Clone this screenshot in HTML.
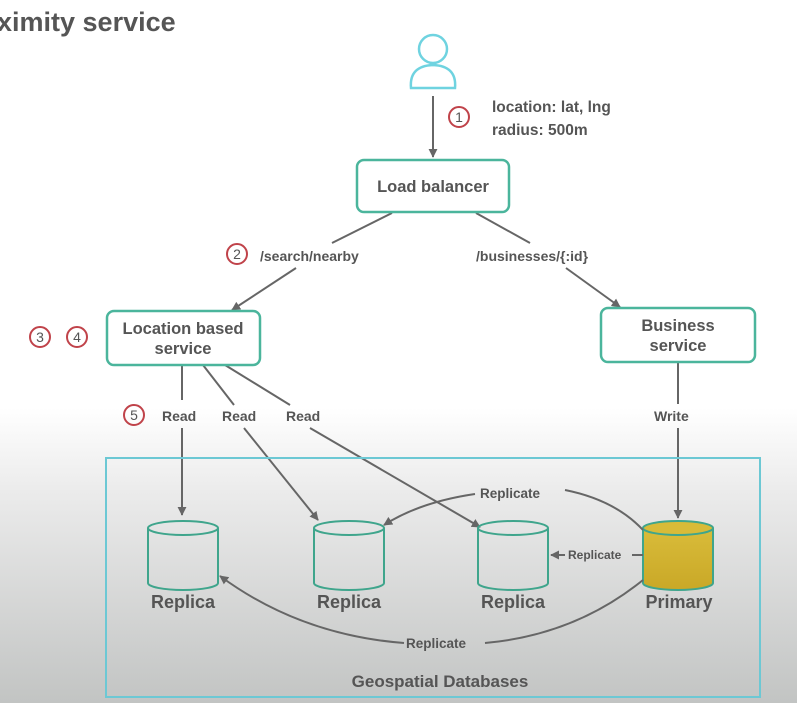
<!DOCTYPE html>
<html><head><meta charset="utf-8"><style>
html,body{margin:0;padding:0;width:797px;height:703px;overflow:hidden;background:#fff}
svg{display:block}
text{font-family:"Liberation Sans",sans-serif;fill:#555}
</style></head><body>
<svg width="797" height="703" viewBox="0 0 797 703">
<defs>
<linearGradient id="bg" x1="0" y1="0" x2="0" y2="1">
<stop offset="0" stop-color="#ffffff"/><stop offset="0.58" stop-color="#ffffff"/><stop offset="0.7" stop-color="#ebebeb"/><stop offset="1" stop-color="#c2c4c3"/>
</linearGradient>
<linearGradient id="gold" x1="0" y1="0" x2="0" y2="1"><stop offset="0" stop-color="#d9bc3a"/><stop offset="1" stop-color="#c9a827"/></linearGradient>
<marker id="a" viewBox="0 0 10 10" refX="9" refY="5" markerWidth="9" markerHeight="9" orient="auto-start-reverse" markerUnits="userSpaceOnUse"><path d="M0,0 L10,5 L0,10 z" fill="#666"/></marker>
</defs>
<rect width="797" height="703" fill="url(#bg)"/>
<text x="-3" y="31" font-size="27" font-weight="bold" fill="#555">ximity service</text>
<!-- user -->
<circle cx="433" cy="49" r="14" fill="none" stroke="#6fd3e0" stroke-width="2.5"/>
<path d="M411,88 Q409,66 433,65 Q457,66 455,88 Z" fill="none" stroke="#6fd3e0" stroke-width="2.5"/>
<g stroke="#666" stroke-width="2" fill="none">
<line x1="433" y1="96" x2="433" y2="157" marker-end="url(#a)"/>
<line x1="392" y1="213" x2="332" y2="243"/>
<line x1="296" y1="268" x2="232" y2="310" marker-end="url(#a)"/>
<line x1="476" y1="213" x2="530" y2="243"/>
<line x1="566" y1="268" x2="620" y2="307" marker-end="url(#a)"/>
<line x1="182" y1="365" x2="182" y2="400"/>
<line x1="182" y1="428" x2="182" y2="515" marker-end="url(#a)"/>
<line x1="203" y1="365" x2="234" y2="405"/>
<line x1="244" y1="428" x2="318" y2="520" marker-end="url(#a)"/>
<line x1="225" y1="365" x2="290" y2="405"/>
<line x1="310" y1="428" x2="480" y2="527" marker-end="url(#a)"/>
<line x1="678" y1="362" x2="678" y2="404"/>
<line x1="678" y1="428" x2="678" y2="518" marker-end="url(#a)"/>
</g>
<!-- boxes -->
<g fill="#fff" stroke="#4bb59c" stroke-width="2.5">
<rect x="357" y="160" width="152" height="52" rx="7"/>
<rect x="107" y="311" width="153" height="54" rx="7"/>
<rect x="601" y="308" width="154" height="54" rx="7"/>
</g>
<text x="433" y="192" font-size="16.5" font-weight="bold" text-anchor="middle">Load balancer</text>
<text x="183" y="334" font-size="16.5" font-weight="bold" text-anchor="middle">Location based</text>
<text x="183" y="354" font-size="16.5" font-weight="bold" text-anchor="middle">service</text>
<text x="678" y="331" font-size="16.5" font-weight="bold" text-anchor="middle">Business</text>
<text x="678" y="351" font-size="16.5" font-weight="bold" text-anchor="middle">service</text>
<text x="492" y="112" font-size="15.5" font-weight="bold">location: lat, lng</text>
<text x="492" y="135" font-size="15.5" font-weight="bold">radius: 500m</text>
<text x="260" y="261" font-size="14" font-weight="bold">/search/nearby</text>
<text x="476" y="261" font-size="14" font-weight="bold">/businesses/{:id}</text>
<g font-size="14" font-weight="bold">
<text x="162" y="421">Read</text><text x="222" y="421">Read</text><text x="286" y="421">Read</text><text x="654" y="421">Write</text>
</g>
<!-- red circles -->
<g fill="none" stroke="#c0434a" stroke-width="2">
<circle cx="459" cy="117" r="10"/><circle cx="237" cy="254" r="10"/><circle cx="40" cy="337" r="10"/><circle cx="77" cy="337" r="10"/><circle cx="134" cy="415" r="10"/>
</g>
<g font-size="14" text-anchor="middle">
<text x="459" y="122">1</text><text x="237" y="259">2</text><text x="40" y="342">3</text><text x="77" y="342">4</text><text x="134" y="420">5</text>
</g>
<!-- container -->
<rect x="106" y="458" width="654" height="239" fill="none" stroke="#6cc8d4" stroke-width="2"/>
<!-- cylinders -->
<g stroke="#3fa58c" stroke-width="2">
<path d="M148,528 V583 A35,7 0 0 0 218,583 V528" fill="none"/><ellipse cx="183" cy="528" rx="35" ry="7" fill="none"/>
<path d="M314,528 V583 A35,7 0 0 0 384,583 V528" fill="none"/><ellipse cx="349" cy="528" rx="35" ry="7" fill="none"/>
<path d="M478,528 V583 A35,7 0 0 0 548,583 V528" fill="none"/><ellipse cx="513" cy="528" rx="35" ry="7" fill="none"/>
<path d="M643,528 V583 A35,7 0 0 0 713,583 V528" fill="url(#gold)"/><ellipse cx="678" cy="528" rx="35" ry="7" fill="#d8bb38"/>
</g>
<g font-size="18" font-weight="bold" text-anchor="middle">
<text x="183" y="608">Replica</text><text x="349" y="608">Replica</text><text x="513" y="608">Replica</text><text x="679" y="608">Primary</text>
<text x="440" y="687" font-size="17">Geospatial Databases</text>
</g>
<g stroke="#666" stroke-width="2" fill="none">
<path d="M643,530 Q615,500 565,490"/>
<path d="M475,494 Q420,502 384,525" marker-end="url(#a)"/>
<line x1="643" y1="555" x2="632" y2="555"/>
<line x1="565" y1="555" x2="551" y2="555" marker-end="url(#a)"/>
<path d="M643,580 Q575,635 485,643"/>
<path d="M404,643 Q300,635 220,576" marker-end="url(#a)"/>
</g>
<g font-size="13.5" font-weight="bold">
<text x="480" y="498">Replicate</text>
<text x="568" y="559" font-size="12">Replicate</text>
<text x="406" y="648">Replicate</text>
</g>
</svg>
</body></html>
